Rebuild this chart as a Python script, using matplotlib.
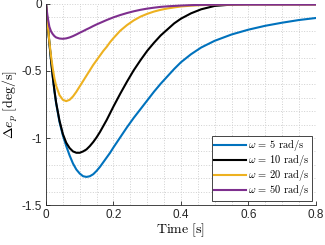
import matplotlib
matplotlib.use('Agg')
import matplotlib.pyplot as plt
from matplotlib.ticker import MultipleLocator, FixedLocator

# sample times [s] and responses
time = [0, 0.005, 0.01, 0.015, 0.02, 0.025, 0.03, 0.04, 0.05, 0.06, 0.07, 0.08, 0.09, 0.1,
        0.11, 0.12, 0.13, 0.14, 0.15, 0.16, 0.17, 0.18, 0.19, 0.2, 0.22, 0.24, 0.26, 0.28,
        0.3, 0.32, 0.34, 0.36, 0.38, 0.4, 0.43, 0.46, 0.5, 0.55, 0.6, 0.65, 0.7, 0.75, 0.8]

de_w5 = [0, -0.15, -0.29, -0.42, -0.54, -0.65, -0.74, -0.88, -0.98, -1.06, -1.13, -1.19, -1.235, -1.265,
         -1.285, -1.29, -1.285, -1.27, -1.245, -1.215, -1.18, -1.145, -1.11, -1.07, -0.995, -0.92, -0.85, -0.785,
         -0.72, -0.655, -0.595, -0.54, -0.485, -0.435, -0.375, -0.325, -0.275, -0.228, -0.192, -0.163, -0.14, -0.12, -0.105]

de_w10 = [0, -0.15, -0.29, -0.42, -0.54, -0.645, -0.735, -0.87, -0.97, -1.035, -1.075, -1.1, -1.11, -1.11,
          -1.1, -1.085, -1.06, -1.03, -0.995, -0.955, -0.91, -0.865, -0.815, -0.765, -0.67, -0.58, -0.495, -0.42,
          -0.35, -0.29, -0.235, -0.19, -0.145, -0.11, -0.07, -0.04, -0.015, -0.005, -0.002, -0.002, -0.002, -0.002, -0.002]

de_w20 = [0, -0.15, -0.28, -0.39, -0.48, -0.555, -0.61, -0.68, -0.715, -0.725, -0.715, -0.69, -0.655, -0.615,
          -0.575, -0.535, -0.495, -0.455, -0.42, -0.385, -0.35, -0.32, -0.285, -0.255, -0.2, -0.158, -0.123, -0.095,
          -0.074, -0.057, -0.044, -0.034, -0.026, -0.019, -0.013, -0.009, -0.006, -0.005, -0.004, -0.004, -0.004, -0.004, -0.004]

de_w50 = [0, -0.1, -0.17, -0.205, -0.225, -0.24, -0.25, -0.258, -0.26, -0.257, -0.25, -0.24, -0.228, -0.215,
          -0.203, -0.19, -0.178, -0.165, -0.153, -0.142, -0.131, -0.12, -0.11, -0.1, -0.083, -0.068, -0.055, -0.044,
          -0.035, -0.028, -0.022, -0.018, -0.015, -0.012, -0.009, -0.007, -0.006, -0.005, -0.005, -0.005, -0.005, -0.005, -0.005]

labels = [r'$\omega$ = 5 rad/s', r'$\omega$ = 10 rad/s',
          r'$\omega$ = 20 rad/s', r'$\omega$ = 50 rad/s']
colors = ['#0072BD', '#000000', '#EDB120', '#7E2F8E']

plt.rcParams['mathtext.fontset'] = 'cm'
plt.rcParams['axes.unicode_minus'] = False
plt.rcParams['axes.formatter.use_mathtext'] = True
plt.rcParams['font.family'] = ['Liberation Sans', 'DejaVu Sans']

fig = plt.figure(figsize=(3.25, 2.45), dpi=100)
ax = fig.add_axes([0.1415, 0.163, 0.8305, 0.821])

for y, lab, c in zip([de_w5, de_w10, de_w20, de_w50], labels, colors):
    ax.plot(time, y, color=c, lw=1.5, label=lab)

ax.set_xlim(0, 0.8)
ax.set_ylim(-1.5, 0)
ax.xaxis.set_major_locator(FixedLocator([0, 0.2, 0.4, 0.6, 0.8]))
ax.yaxis.set_major_locator(FixedLocator([-1.5, -1, -0.5, 0]))
ax.set_xticklabels(['0', '0.2', '0.4', '0.6', '0.8'])
ax.set_yticklabels(['-1.5', '-1', '-0.5', '0'])
ax.xaxis.set_minor_locator(MultipleLocator(0.05))
ax.yaxis.set_minor_locator(MultipleLocator(0.1))

ax.grid(True, which='both', color='#d0d0d0', linestyle=':', linewidth=0.7)
ax.set_axisbelow(True)
ax.spines['top'].set_visible(False)
ax.spines['right'].set_visible(False)
for s in ['left', 'bottom']:
    ax.spines[s].set_color('#262626')
    ax.spines[s].set_linewidth(0.6)
ax.tick_params(which='major', direction='in', length=3, width=0.6,
               labelsize=8.5, colors='#262626', pad=3)
ax.tick_params(which='minor', length=0)

ax.set_xlabel(r'$\mathrm{Time\ [s]}$', fontsize=10, labelpad=0)
ax.set_ylabel(r'$\Delta e_p\ \mathrm{[deg/s]}$', fontsize=10, labelpad=1)

leg = ax.legend(loc='lower right', prop={'family': 'cmr10', 'size': 7.5},
                handlelength=3.0, handletextpad=0.2, borderpad=0.25,
                labelspacing=0.0, borderaxespad=0.4, fancybox=False)
leg.get_frame().set_edgecolor('#262626')
leg.get_frame().set_linewidth(0.6)
leg.get_frame().set_alpha(1)

fig.savefig('out.png', dpi=100)
